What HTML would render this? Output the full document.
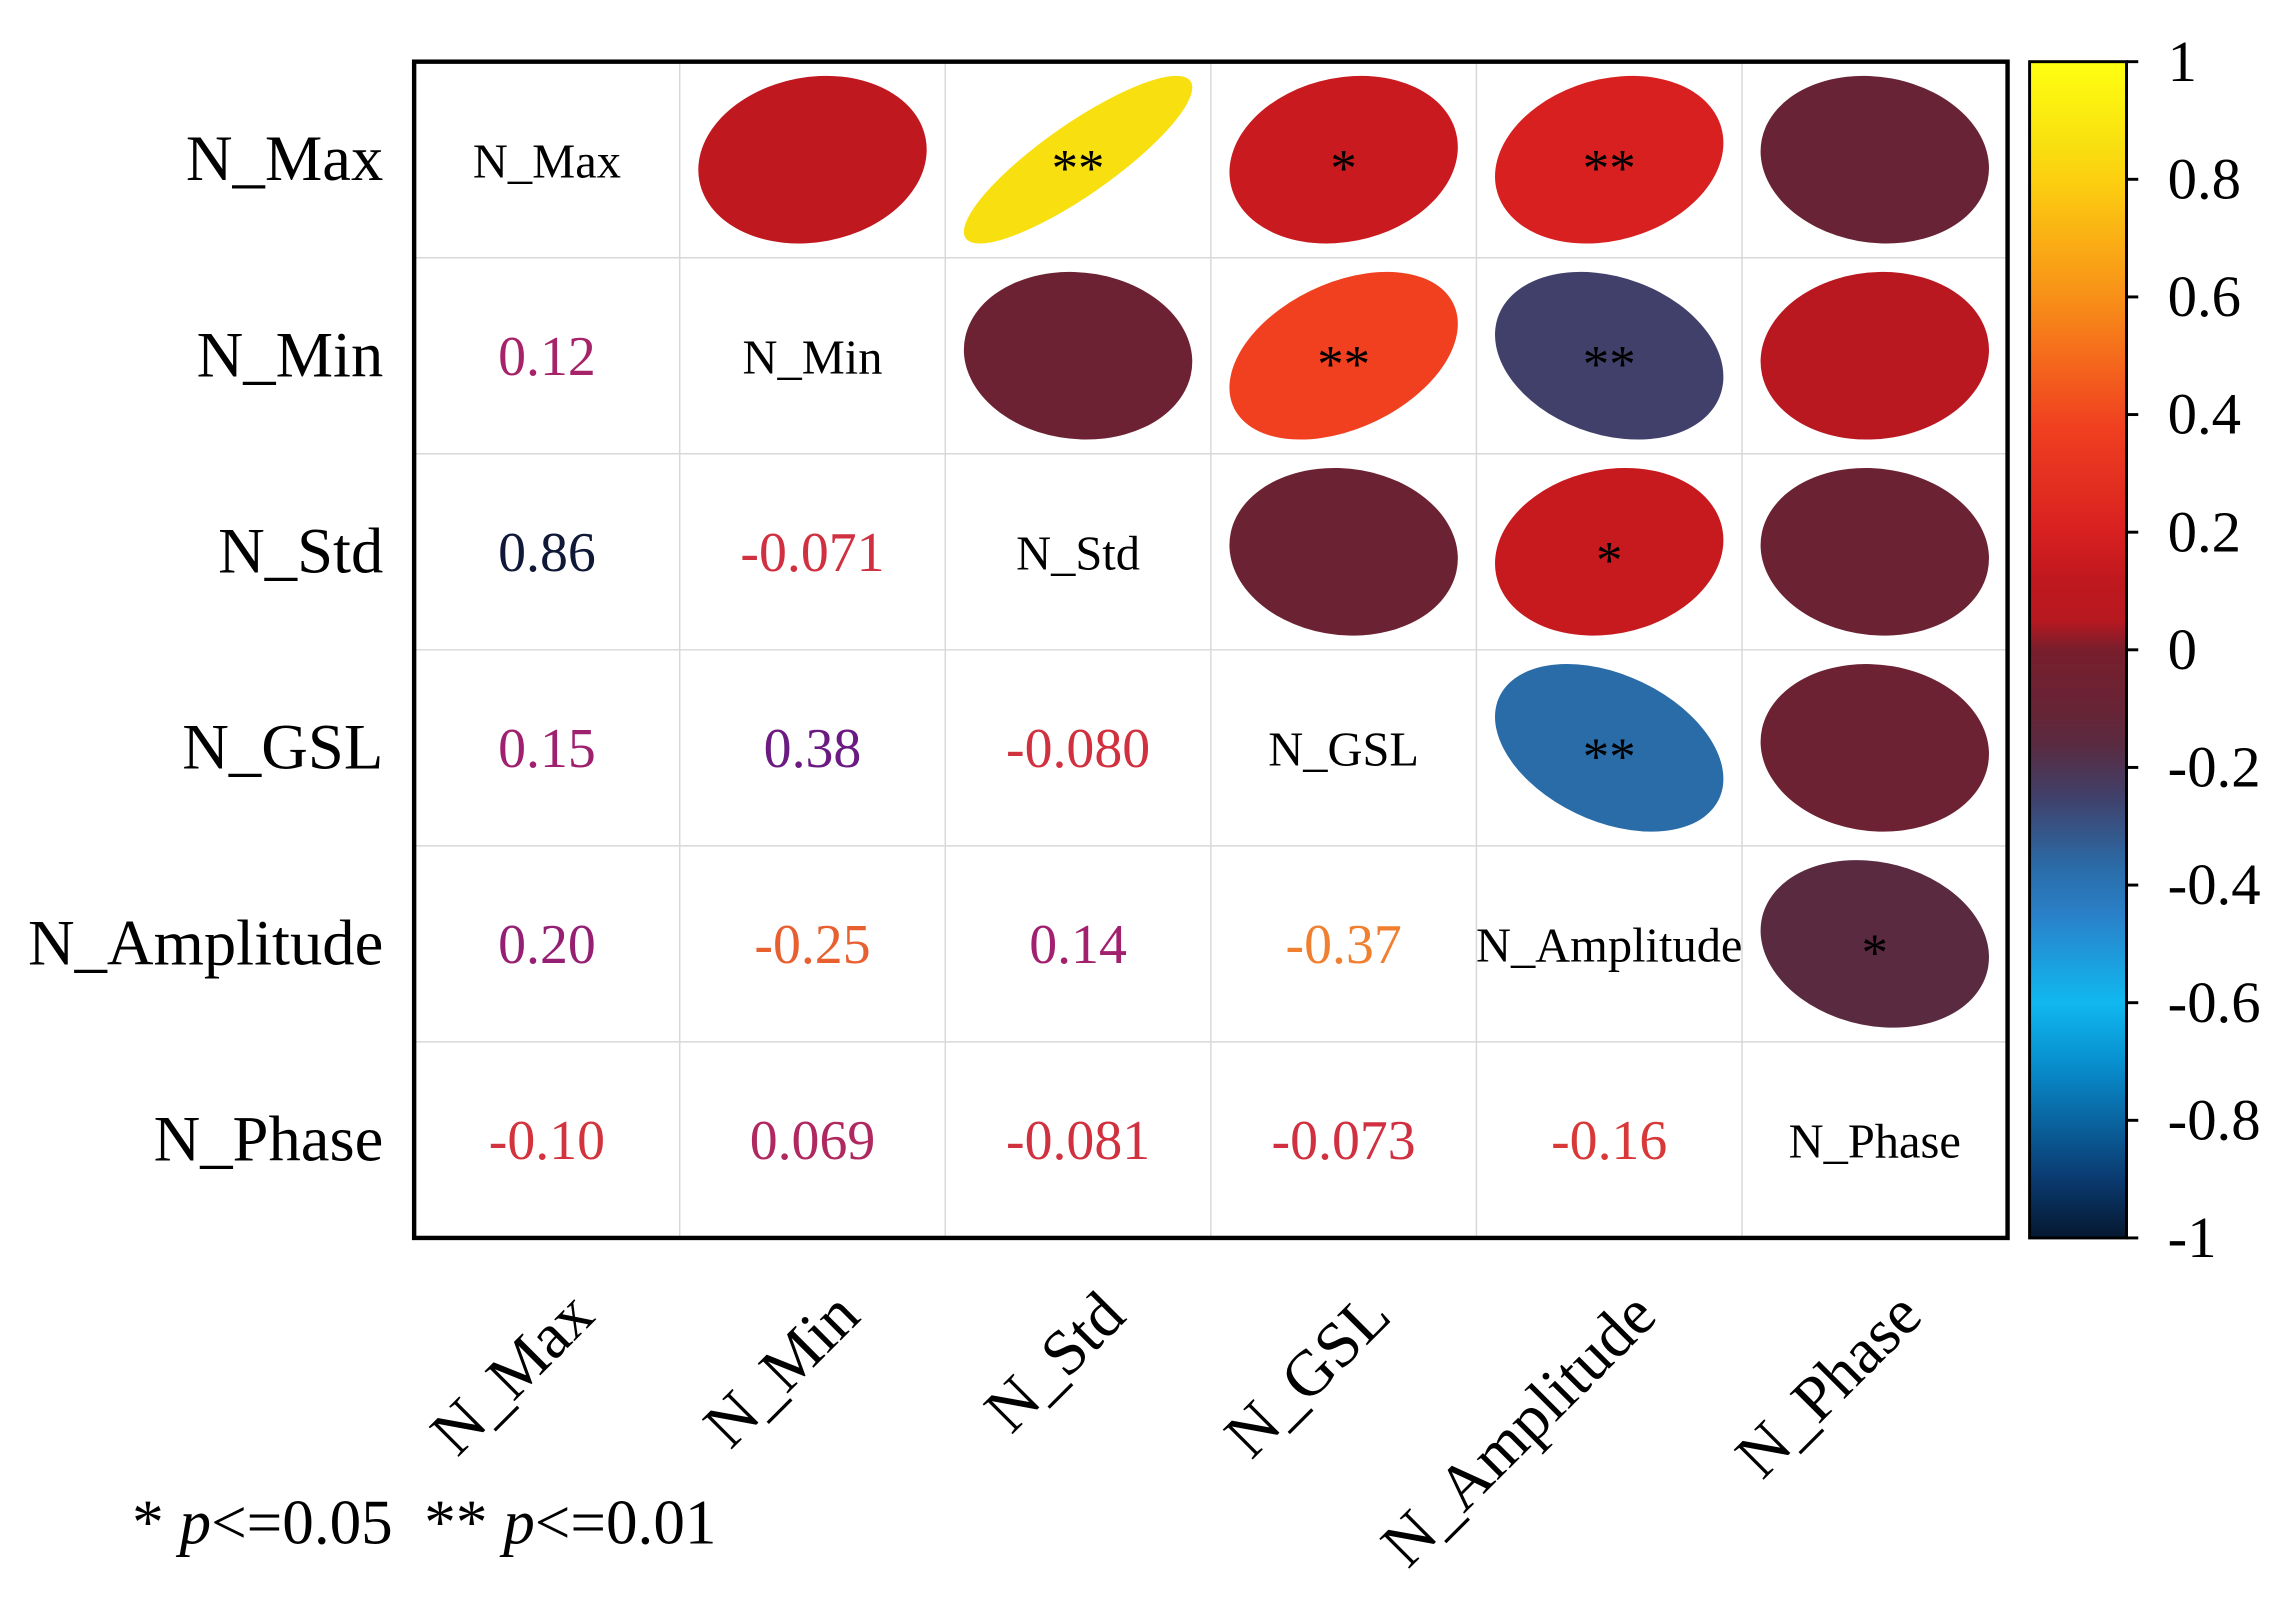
<!DOCTYPE html>
<html><head><meta charset="utf-8">
<style>
html,body{margin:0;padding:0;background:#fff;}
svg{display:block;font-family:"Liberation Serif",serif;}
</style></head>
<body>
<svg id="chart" width="2291" height="1608" viewBox="0 0 1560 1095" preserveAspectRatio="none" xmlns="http://www.w3.org/2000/svg">
<defs>
<linearGradient id="cbar" x1="0" y1="1" x2="0" y2="0"></linearGradient>
</defs>
<g id="cells"></g>
<rect x="282" y="42" width="1085" height="801" fill="none" stroke="#000" stroke-width="3"/>
<g id="labels"></g>
<rect x="1382" y="42" width="66" height="801" fill="url(#cbar)" stroke="#000" stroke-width="2"/>
<g id="cbticks"></g>
<text x="90" y="1051" font-size="43" xml:space="preserve">* <tspan font-style="italic">p</tspan>&lt;=0.05  ** <tspan font-style="italic">p</tspan>&lt;=0.01</text>
</svg>
<script>
const variables = ["N_Max","N_Min","N_Std","N_GSL","N_Amplitude","N_Phase"];
const corr = [
 [1, 0.12, 0.86, 0.15, 0.20, -0.10],
 [0.12, 1, -0.071, 0.38, -0.25, 0.069],
 [0.86, -0.071, 1, -0.080, 0.14, -0.081],
 [0.15, 0.38, -0.080, 1, -0.37, -0.073],
 [0.20, -0.25, 0.14, -0.37, 1, -0.16],
 [-0.10, 0.069, -0.081, -0.073, -0.16, 1]
];
const labelsText = [
 ["","0.12","0.86","0.15","0.20","-0.10"],
 ["0.12","","-0.071","0.38","-0.25","0.069"],
 ["0.86","-0.071","","-0.080","0.14","-0.081"],
 ["0.15","0.38","-0.080","","-0.37","-0.073"],
 ["0.20","-0.25","0.14","-0.37","","-0.16"],
 ["-0.10","0.069","-0.081","-0.073","-0.16",""]
];
const stars = [
 ["","","**","*","**",""],
 ["","","","**","**",""],
 ["","","","","*",""],
 ["","","","","**",""],
 ["","","","","","*"],
 ["","","","","",""]
];
const cbTicks = [1,0.8,0.6,0.4,0.2,0,-0.2,-0.4,-0.6,-0.8,-1];
const cbTickLabels = ["1","0.8","0.6","0.4","0.2","0","-0.2","-0.4","-0.6","-0.8","-1"];

const NS="http://www.w3.org/2000/svg";
const X0=282,Y0=42,W=1085,H=801,n=variables.length,cw=W/n,ch=H/n;
const fillStops=[[-1,"#061830"],[-0.9,"#0a3a70"],[-0.7,"#0890d0"],[-0.6,"#10b8f0"],[-0.45,"#2a80c8"],[-0.37,"#2a6ca8"],[-0.25,"#40406a"],[-0.16,"#5a2a40"],[-0.1,"#682436"],[0,"#781e2c"],[0.05,"#b81820"],[0.12,"#c0181f"],[0.2,"#d82020"],[0.38,"#f04020"],[0.6,"#f89018"],[0.8,"#fcd010"],[0.86,"#f8e010"],[1,"#ffff10"]];
const textStops=[[-1,"#f0a030"],[-0.37,"#f08030"],[-0.25,"#e86030"],[-0.16,"#d83838"],[-0.07,"#d03040"],[0.07,"#b02860"],[0.15,"#a02070"],[0.38,"#6a1a80"],[0.86,"#101838"],[1,"#101838"]];
function hex(c){return [1,3,5].map(i=>parseInt(c.substr(i,2),16));}
function cmap(stops,v){
  for(let i=1;i<stops.length;i++){if(v<=stops[i][0]){const a=stops[i-1],b=stops[i];const t=(v-a[0])/(b[0]-a[0]||1);const ca=hex(a[1]),cb=hex(b[1]);return "rgb("+ca.map((x,k)=>Math.round(x+(cb[k]-x)*t)).join(",")+")";}}
  return stops[stops.length-1][1];
}
const xc=j=>X0+cw*(j+0.5), yc=i=>Y0+ch*(i+0.5);
const cyScale=v=>Y0+H*(1-v)/2;
function el(tag,attrs,parent){const e=document.createElementNS(NS,tag);for(const k in attrs)e.setAttribute(k,attrs[k]);parent.appendChild(e);return e;}

const grad=document.getElementById("cbar");
fillStops.forEach(s=>el("stop",{offset:((s[0]+1)/2*100)+"%","stop-color":s[1]},grad));

const cells=document.getElementById("cells");
for(let k=1;k<n;k++){
  const gl=el("line",{x1:X0+cw*k,y1:Y0,x2:X0+cw*k,y2:Y0+H,stroke:"#d8d8d8","stroke-width":1},cells);
  
  
  const gh=el("line",{x1:X0,y1:Y0+ch*k,x2:X0+W,y2:Y0+ch*k,stroke:"#d8d8d8","stroke-width":1},cells);
  
  
}
for(let i=0;i<n;i++)for(let j=0;j<n;j++){
  const r=corr[i][j];
  if(i===j){
    const t=el("text",{x:xc(j),y:yc(i)+12,"font-size":33,"text-anchor":"middle",fill:"#000"},cells);
    t.textContent=variables[i];
    
    
  }else if(j>i){
    const sx=0.86*cw/2, sy=0.855*ch/2;
    const g=el("g",{transform:`translate(${xc(j)},${yc(i)}) scale(${sx},${sy}) rotate(-45)`},cells);
    const e=el("ellipse",{cx:0,cy:0,rx:Math.sqrt(1+r),ry:Math.sqrt(Math.max(1-r,0.0001)),fill:cmap(fillStops,r)},g);
    
    
    if(stars[i][j]){
      const s=el("text",{x:xc(j),y:yc(i)+18,"font-size":36,"text-anchor":"middle",fill:"#000"},cells);
      s.textContent=stars[i][j];
      
      
    }
  }else{
    const t=el("text",{x:xc(j),y:yc(i)+13,"font-size":38,"text-anchor":"middle",fill:cmap(textStops,r)},cells);
    t.textContent=labelsText[i][j];
    
    
  }
}
const labels=document.getElementById("labels");
variables.forEach((v,i)=>{
  const t=el("text",{x:261,y:yc(i)+14,"font-size":44,"text-anchor":"end"},labels);
  t.textContent=v;
  
  
  const c=el("text",{x:0,y:0,"font-size":44,"text-anchor":"end",transform:`translate(${xc(i)+34},${898}) rotate(-45)`},labels);
  c.textContent=v;
  
  
});
const cbt=document.getElementById("cbticks");
cbTicks.forEach((v,k)=>{
  const y=cyScale(v);
  const l=el("line",{x1:1448,y1:y,x2:1456,y2:y,stroke:"#000","stroke-width":2},cbt);
  
  
  const t=el("text",{x:1476,y:y+13,"font-size":40},cbt);
  t.textContent=cbTickLabels[k];
  
  
});
</script>
</body></html>
